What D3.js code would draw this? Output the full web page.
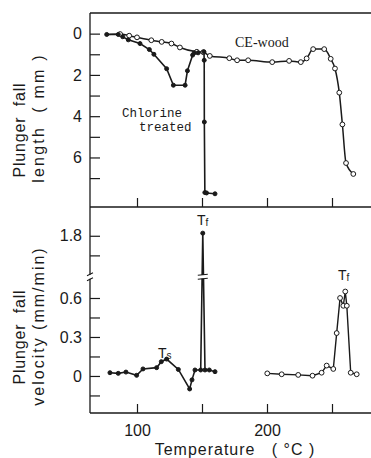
<!DOCTYPE html>
<html>
<head>
<meta charset="utf-8">
<script src="https://cdn.jsdelivr.net/npm/d3@7"></script>
<style>
  html, body { margin: 0; padding: 0; background: #fff; }
  svg { display: block; }
</style>
</head>
<body>
<svg id="chart" width="371" height="458"></svg>
<script>
// Plunger fall length (mm) versus temperature (°C)
const ceWoodLength = [
  [77, 0.04], [87, 0.02], [94, 0.1], [100, 0.18], [111, 0.32], [119, 0.4],
  [126.5, 0.48], [133, 0.67], [146, 0.88], [151, 0.9], [156, 1.08], [171, 1.19],
  [177, 1.29], [185.5, 1.29], [204, 1.38], [217, 1.32], [226, 1.38], [230.5, 1.2],
  [235.5, 0.75], [244, 0.75], [249, 1.22], [252.3, 1.69], [255.6, 2.86],
  [258, 4.4], [260.8, 6.27], [266.4, 6.8]
];
const chlorineLength = [
  [76.7, 0.04], [85.6, 0.04], [89, 0.15], [93.3, 0.3], [102.3, 0.48], [109.5, 0.77],
  [113, 1.0], [122.8, 1.7], [128, 2.5], [137, 2.5], [138.8, 1.8], [142.8, 1.04],
  [144, 0.93], [147, 0.93], [151.5, 0.88], [151.7, 1.29], [151.8, 4.28],
  [152.2, 7.7], [153.5, 7.72], [160, 7.76]
];

// Plunger fall velocity (mm/min) versus temperature (°C)
const chlorineVelocity = [
  [79.2, 0.025], [85.6, 0.02], [91.5, 0.03], [99.7, 0.005], [104.6, 0.054],
  [115.1, 0.064], [118.7, 0.11], [122.8, 0.13], [131.8, 0.05], [140.5, -0.1],
  [142.3, -0.03], [144.6, 0.046], [149, 0.046], [150.6, 1.82], [152.3, 0.046],
  [155.6, 0.046], [160, 0.033]
];
const ceWoodVelocity = [
  [200.2, 0.02], [211.3, 0.013], [224, 0.008], [235, 0.002], [242, 0.025],
  [245.9, 0.08], [251, 0.054], [253.6, 0.33], [256.2, 0.6], [258.7, 0.54],
  [260.2, 0.65], [261.4, 0.54], [264.4, 0.025], [269, 0.013]
];

// Axis ticks and labels
const xTicks = [100, 150, 200, 250];
const xTickLabels = [100, 200];
const lengthTicks = [0, 1, 2, 3, 4, 5, 6, 7];
const lengthTickLabels = [0, 2, 4, 6];
const velocityTicks = [-0.15, 0, 0.15, 0.3, 0.45, 0.6, 1.65, 1.8];
const velocityTickLabels = [0, 0.3, 0.6, 1.8];

const svg = d3.select("#chart");
const ink = "#1a1a1a";
const frameL = 90, frameR = 371, frameT = 13, frameM = 207, frameB = 413;

const x = d3.scaleLinear().domain([100, 200]).range([137, 267]);
const yLen = d3.scaleLinear().domain([-1, 8.4]).range([frameT, frameM]);
// broken axis: 0.75 .. 1.5 is collapsed into the break
const yVel = d3.scaleLinear().domain([-0.285, 0.75, 1.5, 2.02]).range([frameB, 278.5, 275, frameM]);

// frame
const frame = svg.append("g").attr("stroke", ink).attr("stroke-width", 1.3).attr("fill", "none");
frame.append("line").attr("x1", frameL).attr("x2", frameL).attr("y1", frameT).attr("y2", frameB);
[frameT, frameM, frameB].forEach(yy =>
  frame.append("line").attr("x1", frameL).attr("x2", frameR).attr("y1", yy).attr("y2", yy));

function styleAxis(g) {
  g.select(".domain").remove();
  g.selectAll(".tick line").attr("stroke", ink).attr("stroke-width", 1.2);
  g.selectAll(".tick text").attr("fill", ink)
    .attr("font-family", "Liberation Sans, Arial, sans-serif").attr("font-size", 16);
}

// y axes (ticks point into the plot)
svg.append("g").attr("transform", `translate(${frameL},0)`)
  .call(d3.axisLeft(yLen).tickValues(lengthTicks).tickSizeInner(-10).tickSizeOuter(0).tickPadding(8)
    .tickFormat(d => lengthTickLabels.includes(d) ? d3.format("d")(d) : ""))
  .call(styleAxis);

svg.append("g").attr("transform", `translate(${frameL},0)`)
  .call(d3.axisLeft(yVel).tickValues(velocityTicks).tickSizeInner(-10).tickSizeOuter(0).tickPadding(8)
    .tickFormat(d => velocityTickLabels.includes(d) ? (d === 0 ? "0" : d3.format(".1f")(d)) : ""))
  .call(styleAxis);

// x ticks along the panel boundary and the bottom
svg.append("g").attr("transform", `translate(0,${frameM})`)
  .call(d3.axisBottom(x).tickValues(xTicks).tickSizeInner(-9).tickSizeOuter(0).tickFormat(""))
  .call(styleAxis);
svg.append("g").attr("transform", `translate(0,${frameB})`)
  .call(d3.axisBottom(x).tickValues(xTicks).tickSizeInner(-9).tickSizeOuter(0).tickPadding(12)
    .tickFormat(d => xTickLabels.includes(d) ? d : ""))
  .call(styleAxis);

// axis break mark on the velocity axis
const by = (yVel(0.75) + yVel(1.5)) / 2;
svg.append("rect").attr("x", frameL - 2).attr("y", by - 2).attr("width", 4).attr("height", 4).attr("fill", "#fff");
svg.append("path")
  .attr("d", `M${frameL - 3},${by - 1} L${frameL + 3},${by - 4} M${frameL - 3},${by + 4} L${frameL + 3},${by + 1}`)
  .attr("stroke", ink).attr("stroke-width", 1.1).attr("fill", "none");

// series
const lineLen = d3.line().x(d => x(d[0])).y(d => yLen(d[1]));
const lineVel = d3.line().x(d => x(d[0])).y(d => yVel(d[1]));

svg.append("path").datum(chlorineLength)
  .attr("d", lineLen).attr("fill", "none").attr("stroke", ink).attr("stroke-width", 1.6);
svg.append("path").datum(ceWoodLength)
  .attr("d", lineLen.curve(d3.curveMonotoneX)).attr("fill", "none").attr("stroke", ink).attr("stroke-width", 1.5);

svg.append("path").datum(chlorineVelocity)
  .attr("d", lineVel).attr("fill", "none").attr("stroke", ink).attr("stroke-width", 1.6);
svg.append("path").datum(ceWoodVelocity)
  .attr("d", lineVel).attr("fill", "none").attr("stroke", ink).attr("stroke-width", 1.4);

// break marks across the chlorine velocity spike
const sx = x(150.6);
svg.append("rect").attr("x", sx - 5).attr("y", by - 1.8).attr("width", 10).attr("height", 3.6).attr("fill", "#fff");
svg.append("path")
  .attr("d", `M${sx - 5},${by - 1.5} L${sx + 5},${by - 2.5} M${sx - 5},${by + 2.5} L${sx + 5},${by + 1.5}`)
  .attr("stroke", ink).attr("stroke-width", 1.1).attr("fill", "none");

function markers(data, yScale, filled) {
  svg.append("g").selectAll("circle").data(data).join("circle")
    .attr("cx", d => x(d[0])).attr("cy", d => yScale(d[1]))
    .attr("r", filled ? 2 : 2.4)
    .attr("fill", filled ? ink : "#fff")
    .attr("stroke", ink).attr("stroke-width", 1);
}
markers(ceWoodLength.slice(1), yLen, false);
markers(chlorineLength, yLen, true);
markers(chlorineVelocity, yVel, true);
markers(ceWoodVelocity, yVel, false);

// annotations
svg.append("text").attr("x", 235).attr("y", 47).text("CE-wood")
  .attr("font-family", "Liberation Serif, serif").attr("font-size", 14).attr("fill", ink);
const chl = svg.append("text").attr("font-family", "Liberation Mono, monospace").attr("font-size", 12.5).attr("fill", ink);
chl.append("tspan").attr("x", 122).attr("y", 117).text("Chlorine");
chl.append("tspan").attr("x", 139).attr("y", 131).text("treated");

const lab = (xx, yy, main, sub) => {
  const t = svg.append("text").attr("x", xx).attr("y", yy)
    .attr("font-family", "Liberation Sans, Arial, sans-serif").attr("font-size", 14).attr("fill", ink);
  t.append("tspan").text(main);
  t.append("tspan").attr("font-size", 10).attr("dy", 1).text(sub);
};
lab(158, 358, "T", "s");
lab(197, 225, "T", "f");
lab(338, 280, "T", "f");

// axis titles
const title = (cx, cy, txt, spacing) => svg.append("text")
  .attr("transform", `translate(${cx},${cy}) rotate(-90)`)
  .attr("text-anchor", "middle").attr("font-family", "Liberation Sans, Arial, sans-serif")
  .attr("font-size", 16).attr("letter-spacing", spacing).attr("fill", ink)
  .attr("xml:space", "preserve").text(txt);
title(25, 130, "Plunger  fall", 0.8);
title(44, 118, "length  ( mm )", 2.2);
title(25, 337, "Plunger  fall", 0.8);
title(44, 326, "velocity (mm/min)", 2);

svg.append("text").attr("x", 235).attr("y", 455).attr("text-anchor", "middle")
  .attr("font-family", "Liberation Sans, Arial, sans-serif").attr("font-size", 16)
  .attr("letter-spacing", 1).attr("fill", ink).attr("xml:space", "preserve").text("Temperature   ( °C )");
</script>
</body>
</html>
